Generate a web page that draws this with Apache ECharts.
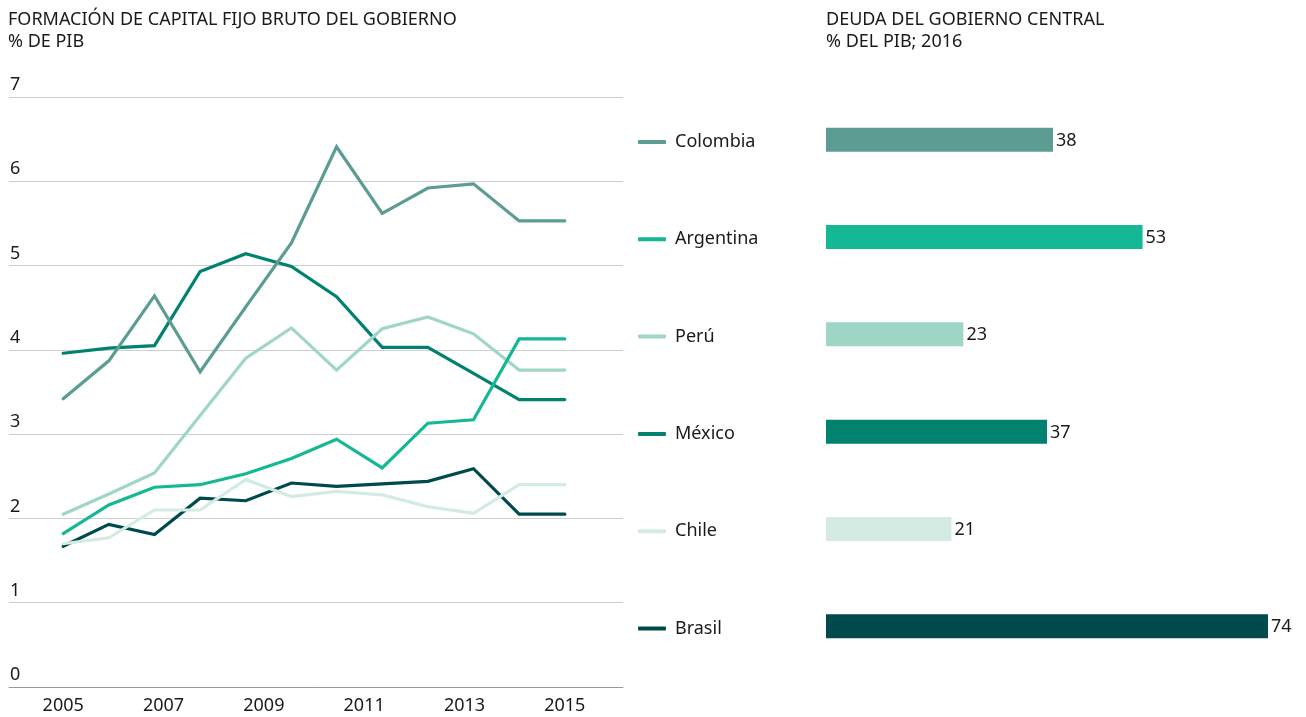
<!DOCTYPE html>
<html>
<head>
<meta charset="utf-8">
<script src="https://cdn.jsdelivr.net/npm/echarts@6/dist/echarts.min.js"></script>
<style>
  html, body { margin: 0; padding: 0; background: #fff; }
  #chart { width: 1306px; height: 717px; }
</style>
</head>
<body>
<div id="chart"></div>
<script>
// x position of each point, in years after 2005 (12 points spread over 2005-2015)
var pointYears = [0, 0.91, 1.82, 2.73, 3.64, 4.55, 5.45, 6.36, 7.27, 8.18, 9.09, 10];
var yearTicks = [0, 2, 4, 6, 8, 10];

var countries = ['Colombia', 'Argentina', 'Perú', 'México', 'Chile', 'Brasil'];
var colors = ['#5b9c93', '#15b894', '#a0d6c5', '#00826f', '#d3ebe3', '#004a4e'];

var colombia  = [3.42, 3.87, 4.64, 3.74, 4.51, 5.27, 6.41, 5.62, 5.92, 5.97, 5.53, 5.53];
var argentina = [1.82, 2.16, 2.37, 2.40, 2.53, 2.71, 2.94, 2.60, 3.13, 3.17, 4.13, 4.13];
var peru      = [2.05, 2.29, 2.54, 3.22, 3.90, 4.26, 3.76, 4.25, 4.39, 4.19, 3.76, 3.76];
var mexico    = [3.96, 4.02, 4.05, 4.93, 5.14, 4.99, 4.63, 4.03, 4.03, 3.72, 3.41, 3.41];
var chile     = [1.70, 1.77, 2.10, 2.10, 2.46, 2.26, 2.32, 2.28, 2.14, 2.06, 2.40, 2.40];
var brasil    = [1.67, 1.93, 1.81, 2.24, 2.21, 2.42, 2.38, 2.41, 2.44, 2.59, 2.05, 2.05];

// deuda del gobierno central, % del PIB 2016
var debt = [38, 53, 23, 37, 21, 74];

var lineData = [colombia, argentina, peru, mexico, chile, brasil];

var font = 'Noto Sans';
var fs = 18;
var chart = echarts.init(document.getElementById('chart'));

var series = lineData.map(function (vals, i) {
    return {
        name: countries[i],
        type: 'line',
        xAxisIndex: 0,
        yAxisIndex: 0,
        showSymbol: false,
        symbol: 'none',
        lineStyle: { width: 3.2, color: colors[i], cap: 'round', join: 'miter' },
        itemStyle: { color: colors[i] },
        data: vals.map(function (v, j) { return [pointYears[j], v]; }),
        z: 10 - i
    };
});

series.push({
    type: 'bar',
    xAxisIndex: 1,
    yAxisIndex: 1,
    barWidth: 24,
    data: debt.map(function (v, i) {
        return { value: v, itemStyle: { color: colors[i] } };
    }),
    label: {
        show: true,
        position: 'right',
        distance: 3,
        offset: [0, 1],
        color: '#1a1a1a',
        fontFamily: font,
        fontSize: fs
    },
    silent: true
});

chart.setOption({
    animation: false,
    textStyle: { fontFamily: font },
    title: [
        {
            text: 'FORMACIÓN DE CAPITAL FIJO BRUTO DEL GOBIERNO\n% DE PIB',
            left: 8, top: 9, padding: 0,
            textStyle: { fontFamily: font, fontSize: fs, fontWeight: 'normal', color: '#1a1a1a', lineHeight: 22 }
        },
        {
            text: 'DEUDA DEL GOBIERNO CENTRAL\n% DEL PIB; 2016',
            left: 826, top: 9, padding: 0,
            textStyle: { fontFamily: font, fontSize: fs, fontWeight: 'normal', color: '#1a1a1a', lineHeight: 22 }
        }
    ],
    legend: {
        orient: 'vertical',
        left: 638,
        top: 133,
        padding: 0,
        itemWidth: 28,
        itemHeight: 4,
        itemGap: 79.3,
        icon: 'roundRect',
        textStyle: { fontFamily: font, fontSize: fs, color: '#1a1a1a', padding: [0, 0, 0, 4] },
        data: countries,
        selectedMode: false
    },
    grid: [
        { left: 9, right: 683, top: 97, bottom: 30 },
        { left: 826, right: 38, top: 91, bottom: 42 }
    ],
    xAxis: [
        {
            type: 'value',
            gridIndex: 0,
            min: -1.08,
            max: 11.16,
            axisLine: { show: true, lineStyle: { color: '#999', width: 1 } },
            axisTick: { show: false },
            splitLine: { show: false },
            axisLabel: {
                customValues: yearTicks,
                formatter: function (v) { return String(2005 + v); },
                color: '#1a1a1a',
                fontSize: fs,
                margin: 10
            }
        },
        {
            type: 'value',
            gridIndex: 1,
            min: 0,
            max: 74,
            show: false
        }
    ],
    yAxis: [
        {
            type: 'value',
            gridIndex: 0,
            min: 0,
            max: 7,
            interval: 1,
            axisLine: { show: false },
            axisTick: { show: false },
            splitLine: { lineStyle: { color: '#cfcfcf', width: 1 } },
            axisLabel: {
                inside: true,
                margin: 1,
                verticalAlign: 'bottom',
                padding: [0, 0, 3, 0],
                color: '#1a1a1a',
                fontSize: fs
            }
        },
        {
            type: 'category',
            gridIndex: 1,
            inverse: true,
            data: countries,
            show: false
        }
    ],
    series: series
});
</script>
</body>
</html>
